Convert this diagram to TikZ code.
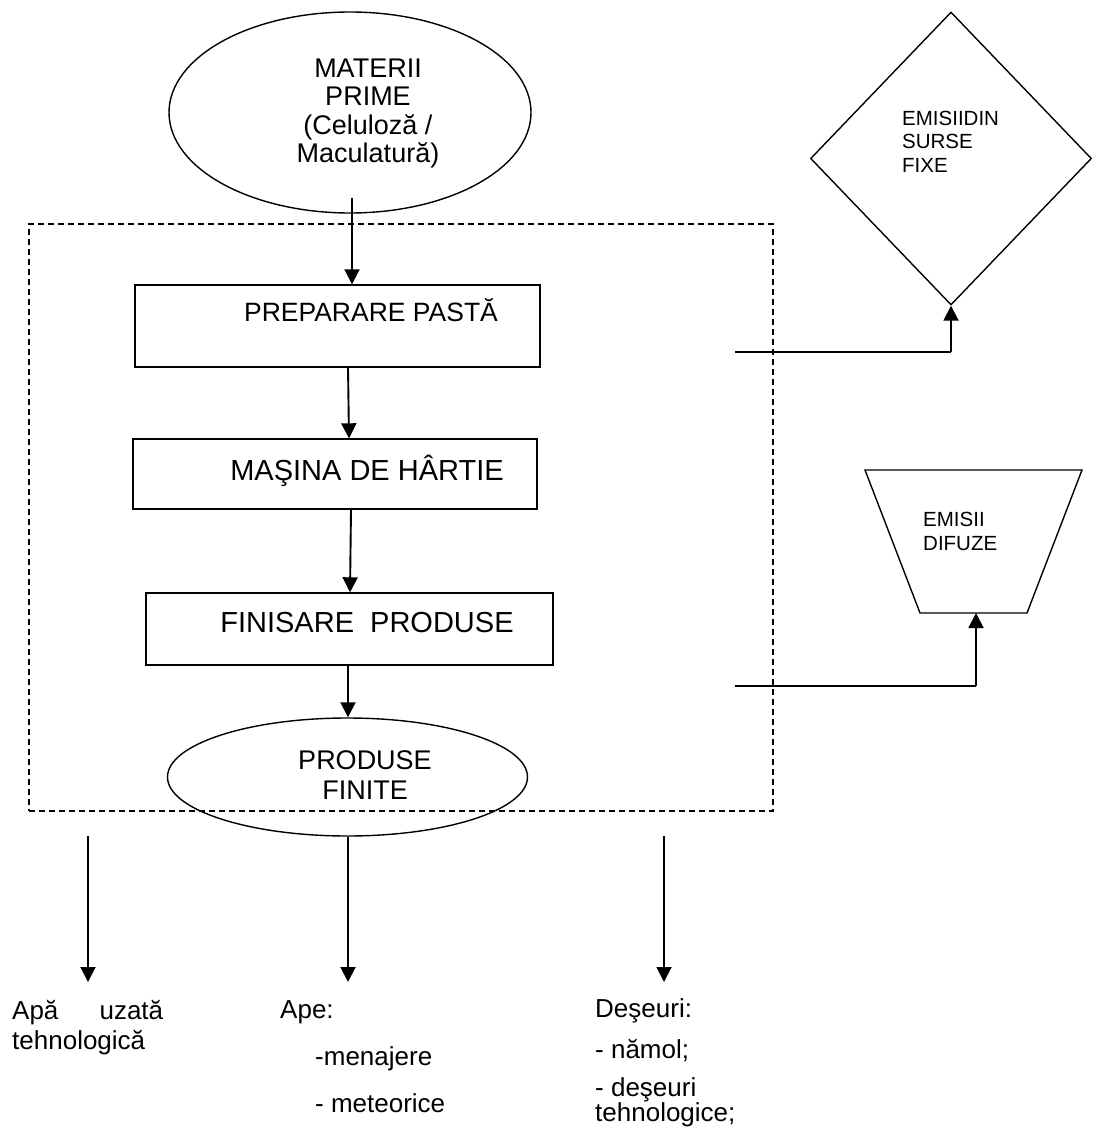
\documentclass[tikz,border=0pt]{standalone}
\usepackage{fontspec}
\setmainfont{Liberation Sans}
\usetikzlibrary{shapes.geometric,arrows.meta}
\begin{document}
\begin{tikzpicture}[x=1pt,y=-1pt,
  shapebox/.style={draw, line width=1.4pt, inner sep=0pt},
  ell/.style={shapebox, ellipse},
  rbox/.style={shapebox, rectangle},
  arr/.style={line width=1.9pt, -{Triangle[length=15pt,width=15pt]}},
  conn/.style={line width=1.9pt},
  frame/.style={draw, dash pattern=on 6pt off 4pt, line width=1.4pt, inner sep=0pt},
  ftxt/.style={inner sep=0pt, font=\fontsize{27}{28.3}\selectfont},
  btxt/.style={inner sep=0pt, font=\fontsize{26}{30}\selectfont},
  stxt/.style={inner sep=0pt, font=\fontsize{20.5}{23.5}\selectfont, align=left},
]
\useasboundingbox (0,0) rectangle (1092,1145);

% dashed frame
\node[frame, minimum width=744pt, minimum height=587pt] (frame) at (401,517.5) {};

% top ellipse
\node[ell, minimum width=362pt, minimum height=201pt] (mat) at (350,112.5) {};
\node[ftxt, align=center] (matT) at (368,113.5) {MATERII\\PRIME\\(Celuloză /\\Maculatură)};

% process boxes
\node[rbox, minimum width=405pt, minimum height=82pt] (prep) at (337.5,326) {};
\node[inner sep=0pt, font=\fontsize{26.5}{30}\selectfont, anchor=base] (prepT) at (371,321) {PREPARARE PASTĂ};

\node[rbox, minimum width=404pt, minimum height=70pt] (mas) at (335,474) {};
\node[inner sep=0pt, font=\fontsize{29}{32}\selectfont, anchor=base] (masT) at (367,480) {MAŞINA DE HÂRTIE};

\node[rbox, minimum width=407pt, minimum height=72pt] (fin) at (349.5,629) {};
\node[inner sep=0pt, font=\fontsize{29}{32}\selectfont, anchor=base] (finT) at (367,632) {FINISARE\ \ PRODUSE};

% products ellipse
\node[ell, minimum width=360pt, minimum height=118pt] (prod) at (347.5,777) {};
\node[ftxt, align=center, font=\fontsize{27}{30}\selectfont] (prodT) at (365,775) {PRODUSE\\FINITE};

% vertical flow arrows
\coordinate (a1s) at (352,198);
\draw[arr] (a1s) -- (a1s |- prep.north);
\draw[arr] (prep.south -| 348,0) -- (mas.north -| 349,0);
\draw[arr] (mas.south -| 351,0) -- (fin.north -| 350,0);
\draw[arr] (fin.south -| 348,0) -- (prod.north -| 348,0);

% emissions from fixed sources
\node[shapebox, diamond, minimum width=281pt, minimum height=293pt] (fixe) at (951,158.5) {};
\node[stxt, anchor=base west] (fixeT) at (902,172) {EMISIIDIN\\SURSE\\FIXE};
\coordinate (c1s) at (735,352);
\draw[conn] (c1s) -- (c1s -| fixe.south);
\draw[arr] (c1s -| fixe.south) -- (fixe.south);

% diffuse emissions (trapezoid)
\coordinate (d1) at (865,470);
\coordinate (d2) at (1082,470);
\coordinate (d3) at (1027,613);
\coordinate (d4) at (920,613);
\draw[line width=1.4pt] (d1) -- (d2) -- (d3) -- (d4) -- cycle;
\coordinate (difB) at (976,613);
\node[stxt, anchor=base west] (difT) at (923,550) {EMISII\\DIFUZE};
\coordinate (c2s) at (735,686);
\draw[conn] (c2s) -- (c2s -| difB);
\draw[arr] (c2s -| difB) -- (difB);

% outputs
\coordinate (o1s) at (88,836);
\coordinate (o1e) at (88,982);
\coordinate (o3s) at (664,836);
\coordinate (o3e) at (664,982);
\coordinate (o2e) at (348,982);
\draw[arr] (o1s) -- (o1e);
\draw[arr] (prod.south -| o2e) -- (o2e);
\draw[arr] (o3s) -- (o3e);

\node[btxt, anchor=base west, align=left, text width=151pt] (apaT) at (12,1019) {Apă\hfill uzată\\tehnologică};
\node[btxt, anchor=base west] (apeT) at (280,1018) {Ape:};
\node[btxt, anchor=base west] (menT) at (315,1065) {-menajere};
\node[btxt, anchor=base west] (metT) at (315,1112) {- meteorice};
\node[btxt, anchor=base west] (desT) at (595,1017) {Deşeuri:};
\node[btxt, anchor=base west] (namT) at (595,1058) {- nămol;};
\node[inner sep=0pt, font=\fontsize{26}{25}\selectfont, anchor=base west, align=left] (dtT) at (595,1121) {- deşeuri\\tehnologice;};
\end{tikzpicture}
\end{document}
